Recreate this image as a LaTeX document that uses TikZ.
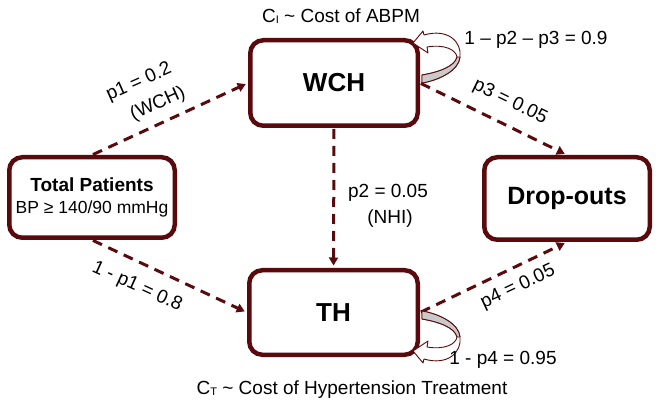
\documentclass[tikz,border=0pt]{standalone}
\usepackage{fontspec}
\setmainfont{Liberation Sans}
\usetikzlibrary{arrows.meta}
\definecolor{maroon}{RGB}{88,10,12}
\definecolor{loopgrey}{RGB}{202,202,202}
\tikzset{
  box/.style={draw=maroon, line width=4.5pt, rounded corners=13pt, fill=white, inner sep=0pt, align=center},
  flow/.style={draw=maroon, line width=3pt, dash pattern=on 10pt off 7pt, shorten <=1pt, shorten >=2.5pt, -{Triangle[length=8pt,width=9pt]}},
  lbl/.style={font=\fontsize{19}{22}\selectfont, inner sep=0pt},
  loopline/.style={draw=maroon, line width=0.9pt, line join=round},
  selfloop/.pic={
    \filldraw[loopline, fill=white] (4,-26) .. controls (28,-33) and (42,-19) .. (40,-4)
      .. controls (39,9) and (20,19) .. (2,22) -- (2,14)
      .. controls (20,11) and (35,5) .. (37,-4)
      .. controls (36,-11) and (25,-17) .. (7,-14) -- (8,-8) -- (-7,-18) -- (3,-30) -- cycle;
    \filldraw[loopline, fill=loopgrey] (40,-4) .. controls (39,9) and (20,19) .. (2,22) -- (2,14)
      .. controls (20,11) and (35,5) .. (37,-4) -- cycle;
  }
}
\begin{document}
\begin{tikzpicture}[x=1pt,y=-1pt]
\useasboundingbox (0,0) rectangle (659,414);

% boxes
\node[box, minimum width=167.5pt, minimum height=85.5pt] (wch) at (334,83)
  {\fontsize{26}{30}\selectfont\bfseries WCH};
\node[box, minimum width=168.5pt, minimum height=84.5pt] (th) at (333.5,312.5)
  {\fontsize{26}{30}\selectfont\bfseries TH};
\node[box, minimum width=165.5pt, minimum height=80.5pt] (tp) at (92,197.5)
  {\fontsize{19}{25}\selectfont\bfseries Total Patients\\[8pt]\fontsize{17.5}{25}\selectfont\mdseries BP ≥ 140/90 mmHg};
\node[box, minimum width=165.5pt, minimum height=82.5pt] (do) at (567,198.5)
  {\fontsize{25}{30}\selectfont\bfseries Drop-outs};

% connectors
\draw[flow] (tp.north) -- (wch.west);
\draw[flow] (tp.south) -- (th.west);
\draw[flow] (wch.south) -- (th.north);
\draw[flow] (wch.east) -- (do.north);
\draw[flow] (th.east) -- (do.south);

% self loops
\pic at (420,61) {selfloop};
\pic[yscale=-1] at (420,333) {selfloop};

% labels
\node[lbl] (cI) at (341,16) {C{\fontsize{11}{11}\selectfont\raisebox{-0.5pt}{I}} \textasciitilde{} Cost of ABPM};
\node[lbl] (cT) at (352,390) {C{\fontsize{11}{11}\selectfont\raisebox{-0.5pt}{T}} \textasciitilde{} Cost of Hypertension Treatment};
\node[lbl] (l9) at (536,40) {1 – p2 – p3 = 0.9};
\node[lbl] (l95) at (503,360) {1 - p4 = 0.95};
\node[lbl, rotate=24] (lp1) at (139,82.5) {p1 = 0.2};
\node[lbl, rotate=24] (lwch) at (158,104) {(WCH)};
\node[lbl, rotate=-24.5] (lp1b) at (137,287) {1 - p1 = 0.8};
\node[lbl] (lp2) at (388,193) {p2 = 0.05};
\node[lbl] (lnhi) at (390,219) {(NHI)};
\node[lbl, rotate=-26] (lp3) at (510,102) {p3 = 0.05};
\node[lbl, rotate=25] (lp4) at (518,287) {p4 = 0.05};
\end{tikzpicture}
\end{document}
